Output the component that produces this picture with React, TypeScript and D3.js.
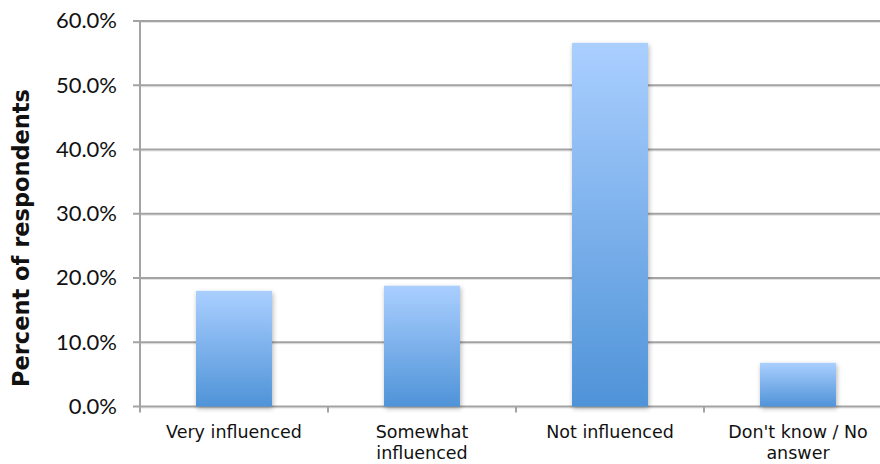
import React from "react";
import * as d3 from "d3";

const categories: string[][] = [
  ["Very influenced"],
  ["Somewhat", "influenced"],
  ["Not influenced"],
  ["Don't know / No", "answer"],
];
const values: number[] = [18.0, 18.8, 56.6, 6.8];
const yTicks: number[] = [0, 10, 20, 30, 40, 50, 60];
const yLabel = "Percent of respondents";

const W = 880;
const H = 464;
const left = 140;
const bandW = 188;
const top = 21;
const bottom = 406.5;

export default function App() {
  const x = d3
    .scaleBand<number>()
    .domain(d3.range(categories.length))
    .range([left, left + bandW * categories.length])
    .paddingInner(0.596)
    .paddingOuter(0.298);
  const y = d3.scaleLinear().domain([0, 60]).range([bottom, top]);
  const boundaries = d3.range(categories.length + 1).map((i) => left + i * bandW);

  return (
    <svg
      width={W}
      height={H}
      style={{ position: "absolute", left: 0, top: 0, background: "#fff" }}
    >
      <defs>
        <linearGradient id="barGrad" x1="0" y1="0" x2="0" y2="1">
          <stop offset="0%" stopColor="#aacfff" />
          <stop offset="100%" stopColor="#4f93d8" />
        </linearGradient>
        <filter id="shadow" x="-20%" y="-10%" width="140%" height="130%">
          <feGaussianBlur in="SourceAlpha" stdDeviation="2.5" />
          <feOffset dx="1" dy="2" result="ob" />
          <feComponentTransfer>
            <feFuncA type="linear" slope="0.3" />
          </feComponentTransfer>
          <feMerge>
            <feMergeNode />
            <feMergeNode in="SourceGraphic" />
          </feMerge>
        </filter>
      </defs>
      {/* gridlines */}
      {yTicks.map((t) => (
        <g key={t}>
          <line x1={left} x2={W} y1={y(t) + 1.5} y2={y(t) + 1.5} stroke="#e4e4e4" strokeWidth={1} />
          <line x1={left - 7} x2={W} y1={y(t)} y2={y(t)} stroke="#a3a3a3" strokeWidth={2} />
          <text
            x={117}
            y={y(t)}
            dy="0.33em"
            textAnchor="end"
            fontFamily="Lato, 'Open Sans', sans-serif"
            fontSize={22}
            fill="#111"
          >
            {t.toFixed(1) + "%"}
          </text>
        </g>
      ))}
      {/* y axis */}
      <line x1={left} x2={left} y1={top} y2={bottom + 1} stroke="#a3a3a3" strokeWidth={2} />
      {/* x ticks */}
      {boundaries.map((b, i) => (
        <line key={i} x1={b} x2={b} y1={bottom} y2={bottom + 6} stroke="#a3a3a3" strokeWidth={2} />
      ))}
      {/* bars */}
      {values.map((v, i) => (
        <rect
          key={i}
          x={x(i)!}
          y={y(v)}
          width={x.bandwidth()}
          height={y(0) - y(v)}
          fill="url(#barGrad)"
          filter="url(#shadow)"
        />
      ))}
      {/* category labels */}
      {categories.map((lines, i) => (
        <text
          key={i}
          x={x(i)! + x.bandwidth() / 2}
          y={438}
          textAnchor="middle"
          fontFamily="'DejaVu Sans', Verdana, sans-serif"
          fontSize={17.5}
          fill="#111"
        >
          {lines.map((l, j) => (
            <tspan key={j} x={x(i)! + x.bandwidth() / 2} dy={j === 0 ? 0 : 21}>
              {l}
            </tspan>
          ))}
        </text>
      ))}
      {/* y label */}
      <text
        transform={`translate(29, ${238}) rotate(-90)`}
        textAnchor="middle"
        fontFamily="'DejaVu Sans', sans-serif"
        fontWeight="bold"
        fontSize={22.5}
        fill="#111"
      >
        {yLabel}
      </text>
    </svg>
  );
}
